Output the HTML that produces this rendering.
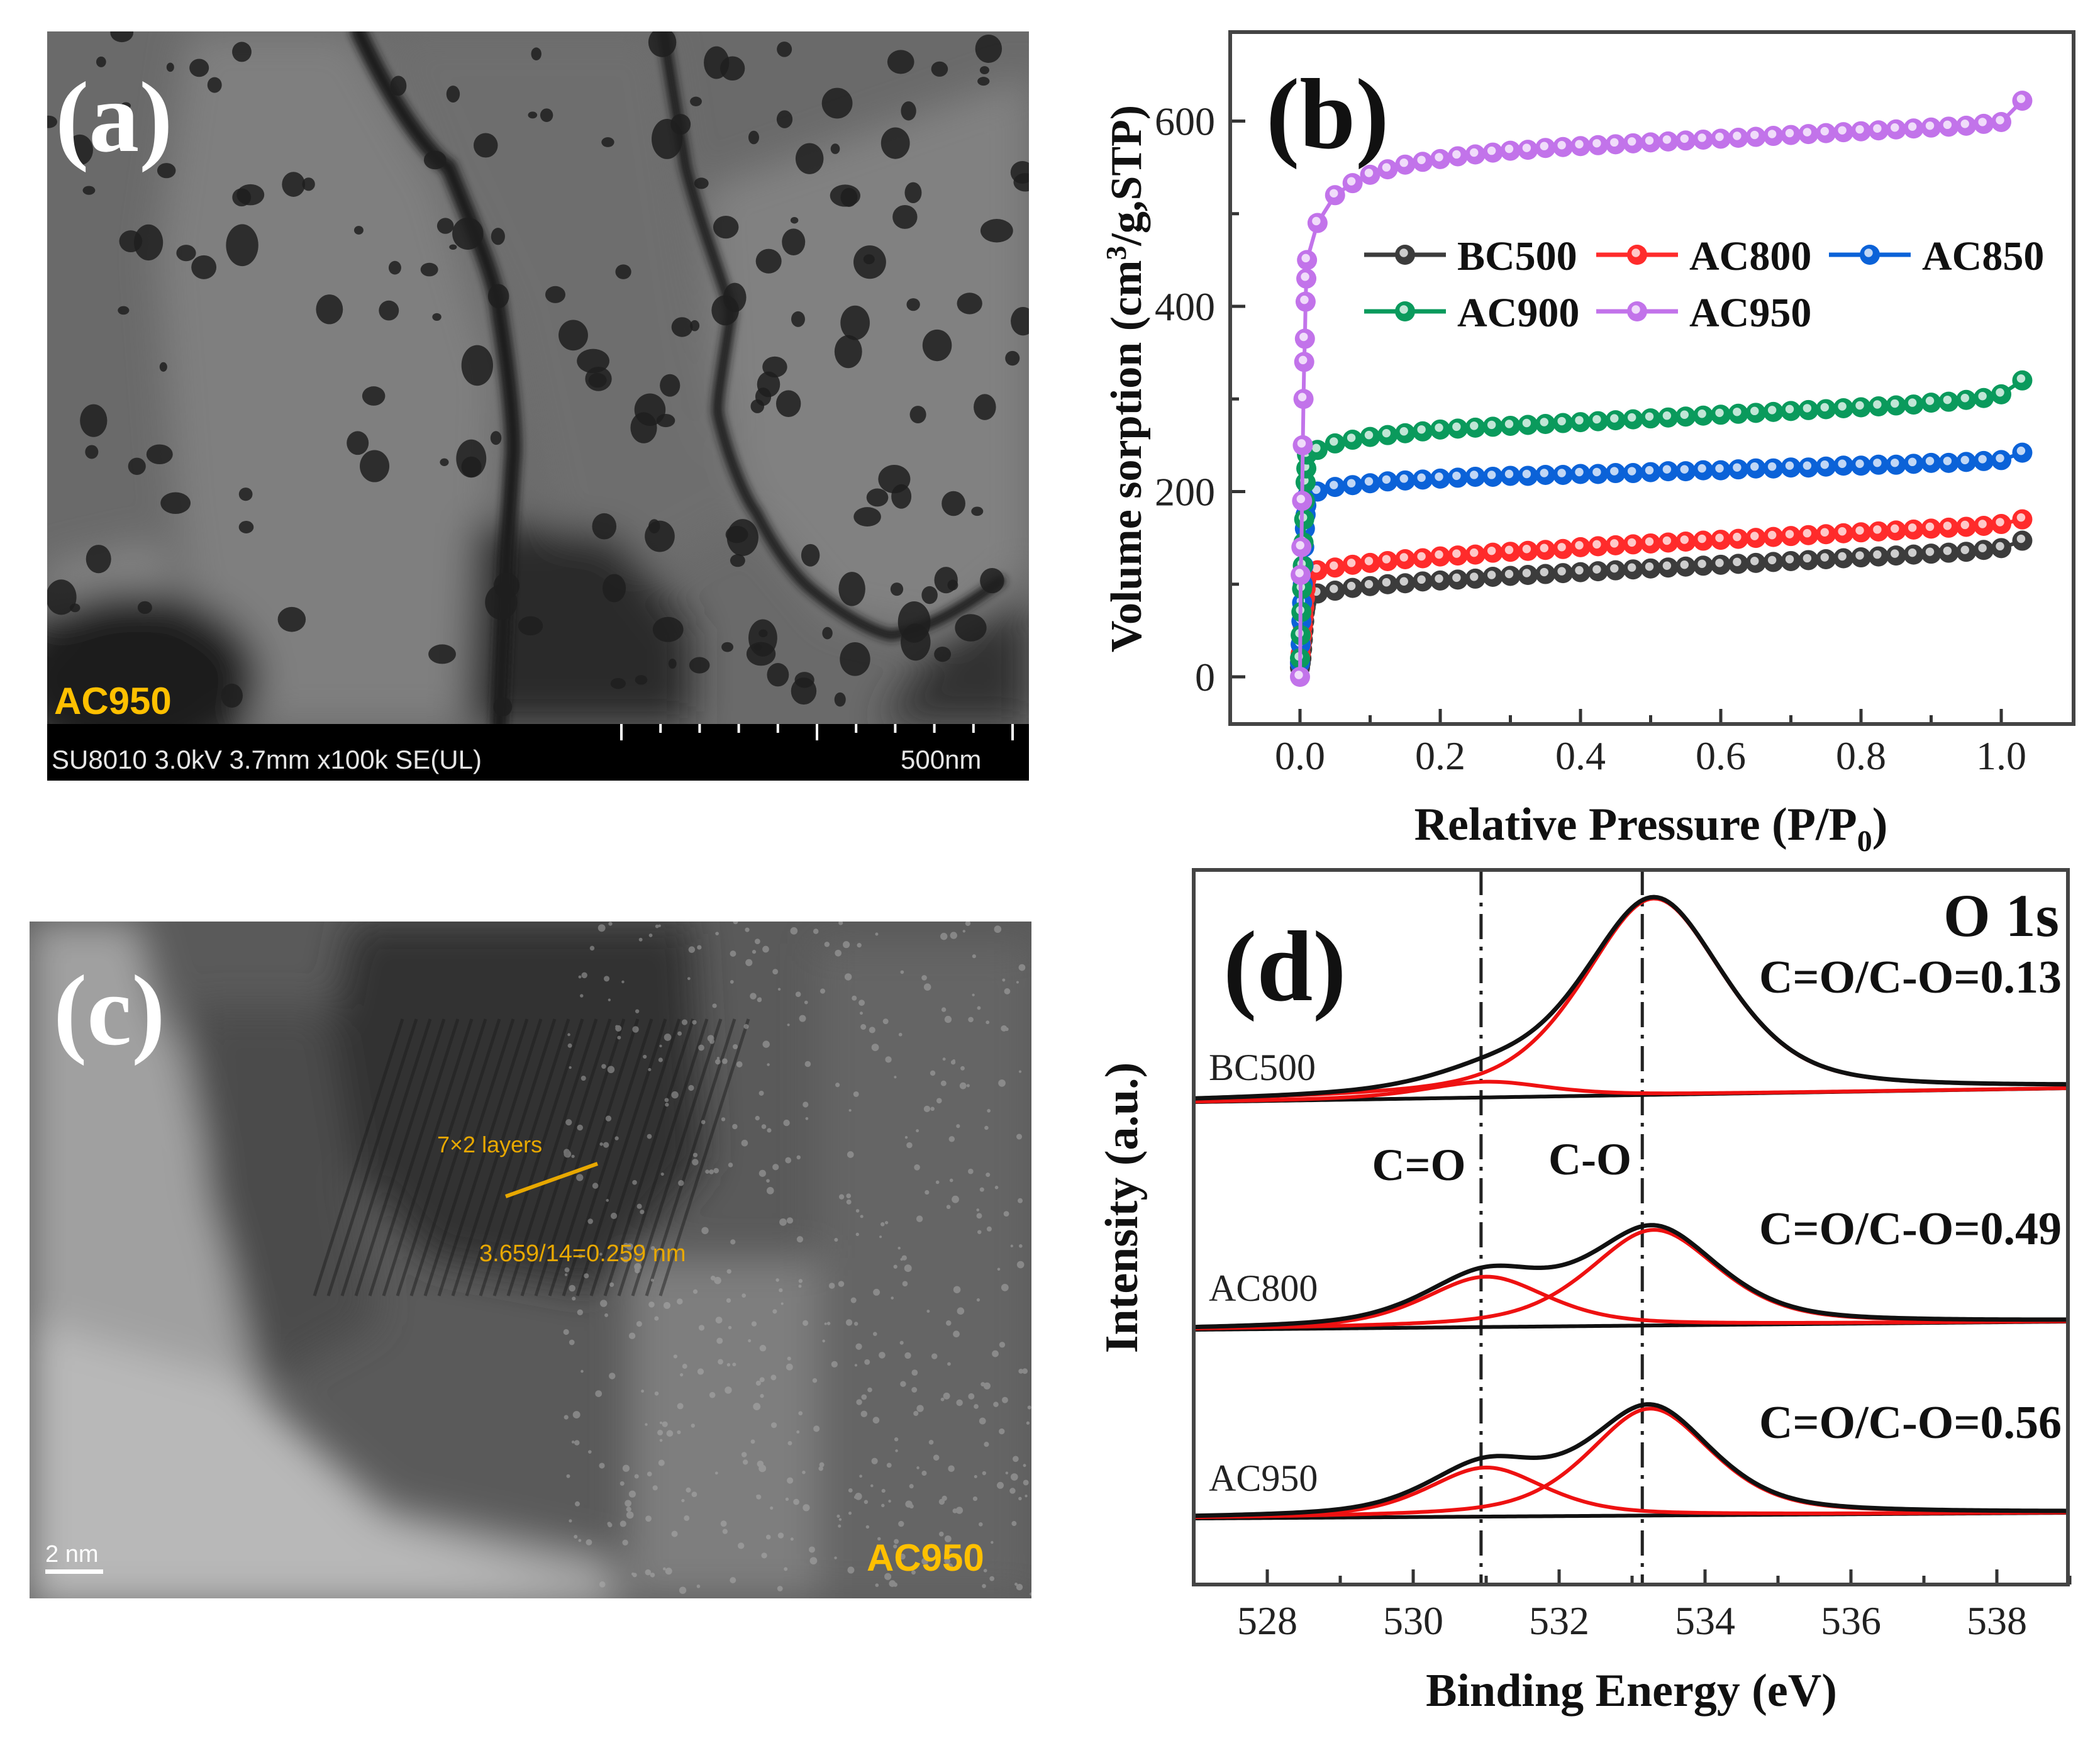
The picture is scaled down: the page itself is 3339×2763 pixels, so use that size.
<!DOCTYPE html>
<html><head><meta charset="utf-8">
<style>
html,body{margin:0;padding:0;background:#fff;}
svg{display:block;}
.serif{font-family:"Liberation Serif",serif;}
.sans{font-family:"Liberation Sans",sans-serif;}
</style></head>
<body>
<svg id="fig" width="3339" height="2763" viewBox="0 0 3339 2763" xmlns="http://www.w3.org/2000/svg">
<defs>
 <filter id="blur30" filterUnits="userSpaceOnUse" x="-500" y="-500" width="4300" height="3800"><feGaussianBlur stdDeviation="30"/></filter>
 <filter id="blur8" filterUnits="userSpaceOnUse" x="-500" y="-500" width="4300" height="3800"><feGaussianBlur stdDeviation="6"/></filter>
 <clipPath id="clipA"><rect x="75" y="50" width="1561" height="1101"/></clipPath>
 <clipPath id="clipC"><rect x="47" y="1465" width="1593" height="1076"/></clipPath>
 <clipPath id="clipB"><rect x="1956" y="51" width="1341" height="1100"/></clipPath>
 <clipPath id="clipD"><rect x="1898" y="1383" width="1390" height="1136"/></clipPath>
</defs>

<!-- Panel (a) SEM image -->
<g id="panelA">
 <g clip-path="url(#clipA)">
  <rect x="75" y="50" width="1561" height="1101" fill="#6a6a6a"/>
  <g filter="url(#blur30)">
   <path d="M300,50 L560,50 L700,300 L790,600 L770,1151 L330,1151 L280,800 L250,400 Z" fill="#7f7f7f"/>
   <path d="M1120,300 L1636,120 L1636,900 L1500,1010 L1330,980 L1180,800 L1140,600 Z" fill="#818181"/>
   <path d="M75,900 L250,860 L300,1000 L75,1050 Z" fill="#848484"/>
   <path d="M600,50 L1050,50 L1140,650 L1200,820 L1050,900 L880,860 L800,500 Z" fill="#6e6e6e"/>
   <ellipse cx="213" cy="1080" rx="200" ry="140" fill="#1c1c1c"/>
   <path d="M754,830 L980,850 L1100,1000 L1100,1151 L740,1151 Z" fill="#2a2a2a"/>
   <path d="M1400,1151 L1500,1010 L1636,960 L1636,1151 Z" fill="#333"/>
  </g>
  <g fill="none" stroke="#1a1a1a" stroke-linecap="round" filter="url(#blur8)">
   <path d="M570,50 C640,200 700,260 713,265 C760,380 790,450 794,500 C810,600 820,700 815,736 C810,820 805,880 805,892 L794,1151" stroke-width="26"/>
   <path d="M1055,50 C1070,150 1085,230 1090,265 C1120,380 1160,470 1162,500 C1150,580 1140,630 1141,657 C1160,740 1190,800 1202,814 C1230,870 1260,910 1284,932 C1340,980 1390,1005 1417,1010 C1480,1000 1540,960 1590,924" stroke-width="18"/>
  </g>
  <g id="holesA" fill="#222"></g>
 </g>
 <rect x="75" y="1151" width="1561" height="90" fill="#000"/>
 <g id="scaleTicksA" stroke="#fff" stroke-width="4"></g>
 <text class="sans" x="82" y="1222" font-size="42" fill="#e6e6e6">SU8010 3.0kV 3.7mm x100k SE(UL)</text>
 <text class="sans" x="1432" y="1222" font-size="42" fill="#e6e6e6">500nm</text>
 <text class="sans" x="86" y="1135" font-weight="bold" font-size="60" fill="#ffc000">AC950</text>
 <text class="serif" x="88" y="240" font-weight="bold" font-size="160" fill="#fff">(a)</text>
</g>

<!-- Panel (c) HRTEM image -->
<g id="panelC">
 <g clip-path="url(#clipC)">
  <rect x="47" y="1465" width="1593" height="1076" fill="#5a5a5a"/>
  <g filter="url(#blur30)">
   <path d="M47,1465 L220,1465 L260,1620 L288,1660 L370,2046 L412,2222 L618,2397 L970,2475 L990,2560 L47,2560 Z" fill="#a0a0a0"/>
   <path d="M47,2100 L400,2200 L600,2420 L950,2541 L47,2541 Z" fill="#b8b8b8"/>
   <path d="M560,1465 L1100,1465 L1120,1850 L950,2050 L680,2000 L500,1780 Z" fill="#333"/>
   <path d="M300,1600 L520,1600 L600,2100 L420,2200 L330,1900 Z" fill="#4c4c4c"/>
   <path d="M1000,2000 L1400,2000 L1380,2541 L1000,2541 Z" fill="#7e7e7e"/>
   <path d="M1300,1500 L1640,1500 L1640,2541 L1300,2541 Z" fill="#656565"/>
  </g>
  <g id="latticeC" stroke="#1a1a1a" stroke-width="5" opacity="0.45"></g>
  <g id="speckC" fill="#b0b0b0" opacity="0.5"></g>
 </g>
 <text class="serif" x="85" y="1660" font-weight="bold" font-size="160" fill="#fff">(c)</text>
 <text class="sans" x="695" y="1832" font-size="36" fill="#e8a800">7×2 layers</text>
 <line x1="804" y1="1902" x2="950" y2="1850" stroke="#e8a800" stroke-width="6"/>
 <text class="sans" x="762" y="2005" font-size="38" fill="#e8a800">3.659/14=0.259 nm</text>
 <text class="sans" x="72" y="2483" font-size="38" fill="#fff">2  nm</text>
 <rect x="72" y="2495" width="92" height="7" fill="#fff"/>
 <text class="sans" x="1378" y="2497" font-weight="bold" font-size="60" fill="#ffc000">AC950</text>
</g>

<!-- Panel (b) -->
<g id="panelB" class="serif">
 <g id="bTicks" stroke="#333" stroke-width="5"></g>
 <g id="bTickLabels" font-size="64" fill="#222"></g>
 <g id="bSeries" clip-path="url(#clipB)"></g>
 <rect x="1956" y="51" width="1341" height="1100" fill="none" stroke="#444" stroke-width="6"/>
 <text x="2013" y="235" font-weight="bold" font-size="160" fill="#111">(b)</text>
 <g id="bLegend" font-weight="bold" font-size="66" fill="#111"></g>
 <text x="2625" y="1335" text-anchor="middle" font-weight="bold" font-size="74" fill="#111">Relative Pressure (P/P<tspan font-size="48" dy="18">0</tspan><tspan dy="-18">)</tspan></text>
 <text transform="translate(1814,602) rotate(-90)" text-anchor="middle" font-weight="bold" font-size="70" fill="#111">Volume sorption (cm<tspan font-size="46" dy="-24">3</tspan><tspan dy="24">/g,STP)</tspan></text>
</g>

<!-- Panel (d) -->
<g id="panelD" class="serif">
 <g id="dTicks" stroke="#333" stroke-width="5"></g>
 <g id="dTickLabels" font-size="64" fill="#222"></g>
 <g id="dSeries" clip-path="url(#clipD)"></g>
 <rect x="1898" y="1383" width="1390" height="1136" fill="none" stroke="#444" stroke-width="6"/>
 <text x="1945" y="1590" font-weight="bold" font-size="160" fill="#111">(d)</text>
 <text x="3274" y="1488" text-anchor="end" font-weight="bold" font-size="96" fill="#111">O 1s</text>
 <g id="dLabels"></g>
 <text x="2256" y="1876" text-anchor="middle" font-weight="bold" font-size="72" fill="#111">C=O</text>
 <text x="2528" y="1867" text-anchor="middle" font-weight="bold" font-size="72" fill="#111">C-O</text>
 <text x="2594" y="2712" text-anchor="middle" font-weight="bold" font-size="74" fill="#111">Binding Energy (eV)</text>
 <text transform="translate(1808,1920) rotate(-90)" text-anchor="middle" font-weight="bold" font-size="74" fill="#111">Intensity (a.u.)</text>
</g>
</svg>

<script>
// ===== Panel (b) data =====
const bPressure = [0.025,0.05,0.075,0.1,0.125,0.15,0.175,0.2,0.225,0.25,0.275,0.3,0.325,0.35,0.375,0.4,0.425,0.45,0.475,0.5,0.525,0.55,0.575,0.6,0.625,0.65,0.675,0.7,0.725,0.75,0.775,0.8,0.825,0.85,0.875,0.9,0.925,0.95,0.975,1.0,1.03];
const bLowPressure = [0.0,0.001,0.002,0.003,0.004,0.005,0.006,0.007,0.008,0.009,0.01];
const bSeriesNames = ["BC500","AC800","AC850","AC900","AC950"];
const bColors = ["#3c3c3c","#ff2b2b","#0b62d8","#0a9a5c","#c273ea"];
const bc500Low = [10,15,20,30,40,50,60,70,75,80,85];
const ac800Low = [15,25,35,45,55,65,75,85,95,105,110];
const ac850Low = [15,35,60,80,100,120,140,160,175,185,195];
const ac900Low = [20,45,70,95,120,145,170,190,210,225,240];
const ac950Low = [0,110,140,190,250,300,340,365,405,430,450];
const bc500High = [90,93,96,98,100,101,103,104,105,106,108,109,110,111,112,113,114,115,116,117,118,119,120,121,122,123,124,125,126,127,128,129,130,131,132,133,134,135,137,139,147];
const ac800High = [115,118,121,123,125,127,128,130,131,132,134,135,136,137,138,140,141,142,143,144,145,146,147,148,149,150,151,152,153,154,155,156,157,158,159,160,161,162,163,165,170];
const ac850High = [200,205,207,209,211,212,213,214,215,216,216,217,217,218,218,219,219,220,220,221,222,222,223,223,224,225,225,226,226,227,228,228,229,229,230,231,231,232,233,234,242];
const ac900High = [245,252,256,259,261,263,265,267,268,269,270,271,272,273,274,275,276,277,278,279,280,281,282,283,284,285,286,287,288,289,290,291,292,293,294,296,297,299,301,305,320];
const ac950High = [490,520,533,542,548,553,556,559,562,564,566,568,569,571,572,573,574,575,576,577,578,579,580,581,582,583,584,585,586,587,588,589,590,591,592,593,594,595,597,599,622];
const bXTicks = [0.0,0.2,0.4,0.6,0.8,1.0];
const bXTickLabels = ["0.0","0.2","0.4","0.6","0.8","1.0"];
const bYTicks = [0,200,400,600];
const bYTickLabels = ["0","200","400","600"];

// ===== Panel (d) data =====
const dSamples = ["BC500","AC800","AC950"];
const dRatios = ["C=O/C-O=0.13","C=O/C-O=0.49","C=O/C-O=0.56"];
const dBaseLeft = [767,405,105];
const dBaseRight = [789,418,114];
const dCOCenter = [533.3,533.3,533.25];
const dCOHeight = [312,152,170];
const dCOWidth = [2.3,2.1,2.0];
const dCdOCenter = [531.0,531.0,531.0];
const dCdOHeight = [25,80,78];
const dCdOWidth = [2.0,2.0,1.9];
const dRefLines = [530.93,533.14];
const dXTicks = [528,530,532,534,536,538];
const dXTickLabels = ["528","530","532","534","536","538"];

const NS = "http://www.w3.org/2000/svg";
function mk(tag, attrs, parent){ const e=document.createElementNS(NS,tag); for(const k in attrs) e.setAttribute(k,attrs[k]); if(parent) parent.appendChild(e); return e; }

// ---- axes b
const bx = v => 2067 + v*1115;
const by = v => 1076 - v*1.4725;
const bT = document.getElementById('bTicks');
const bL = document.getElementById('bTickLabels');
for (let i=0;i<=10;i++){ const v=i*0.1; const major = i%2===0;
  const t = mk('line',{x1:bx(v),x2:bx(v),y1:1151,y2:1151-(major?24:14)},bT);
    }
for (let v=0; v<=650; v+=100){ const major = v%200===0;
  const t = mk('line',{x1:1956,x2:1956+(major?24:14),y1:by(v),y2:by(v)},bT);
    }
bXTicks.forEach((v,i)=>{ const t=mk('text',{x:bx(v),y:1223,'text-anchor':'middle'},bL); t.textContent=bXTickLabels[i];
    });
bYTicks.forEach((v,i)=>{ const t=mk('text',{x:1932,y:by(v)+22,'text-anchor':'end'},bL); t.textContent=bYTickLabels[i];
    });

// ---- series b
const bLow = [bc500Low,ac800Low,ac850Low,ac900Low,ac950Low];
const bHigh = [bc500High,ac800High,ac850High,ac900High,ac950High];
const bS = document.getElementById('bSeries');
function marker(parent, x, y, color, r){
  const g = mk('g',{},parent);
  mk('circle',{cx:x,cy:y,r:r,fill:color},g);
  mk('circle',{cx:x-2,cy:y-3,r:r*0.42,fill:'#fff',opacity:0.75},g);
  return g;
}
bSeriesNames.forEach((name,si)=>{
  const g = mk('g',{},bS);
  
  
  const pts = [];
  bLowPressure.forEach((p,i)=>pts.push([bx(p),by(bLow[si][i])]));
  bPressure.forEach((p,i)=>pts.push([bx(p),by(bHigh[si][i])]));
  const line = mk('polyline',{points:pts.map(p=>p.join(',')).join(' '),fill:'none',stroke:bColors[si],'stroke-width':6},g);
  
  
  pts.forEach(p=>{ const m=marker(g,p[0],p[1],bColors[si],16);
    
     });
});

// ---- legend b
const bLg = document.getElementById('bLegend');
const legendPos = [[2169,405],[2538,405],[2908,405],[2169,495],[2538,495]];
bSeriesNames.forEach((name,i)=>{
  const [x,y] = legendPos[i];
  const g = mk('g',{},bLg);
  
  
  mk('line',{x1:x,x2:x+130,y1:y,y2:y,stroke:bColors[i],'stroke-width':7},g);
  marker(g,x+65,y,bColors[i],16);
  const t = mk('text',{x:x+148,y:y+24},g); t.textContent=name;
});

// ---- panel d
const dx = e => 2015 + (e-528)*116;
const dy = v => 2519 - v;
const dT = document.getElementById('dTicks');
const dL = document.getElementById('dTickLabels');
for (let e=528; e<=539; e++){ const major = e%2===0;
  const t = mk('line',{x1:dx(e),x2:dx(e),y1:2519,y2:2519-(major?24:14)},dT);
    }
dXTicks.forEach((v,i)=>{ const t=mk('text',{x:dx(v),y:2598,'text-anchor':'middle'},dL); t.textContent=dXTickLabels[i];
    });

function pv(e,c,h,w){ const d=(e-c)/(w/2); return h*(0.5/(1+d*d) + 0.5*Math.exp(-Math.LN2*d*d)); }
const dS = document.getElementById('dSeries');
dRefLines.forEach(e=>{ const l=mk('line',{x1:dx(e),x2:dx(e),y1:1383,y2:2519,stroke:'#222','stroke-width':5,'stroke-dasharray':'40 12 6 12'},dS);
    });
const dLab = document.getElementById('dLabels');
const sampleLabelY = [1717,2068,2370];
const ratioY = [1578,1978,2286];
dSamples.forEach((name,si)=>{
  const g = mk('g',{},dS);
  
  
  const base = e => dBaseLeft[si] + (dBaseRight[si]-dBaseLeft[si])*(e-527)/12;
  const bl=[], co=[], cdo=[], env=[];
  for (let e=527; e<=539.001; e+=0.05){
    const b=base(e), a=pv(e,dCOCenter[si],dCOHeight[si],dCOWidth[si]), c=pv(e,dCdOCenter[si],dCdOHeight[si],dCdOWidth[si]);
    bl.push(dx(e)+','+dy(b)); co.push(dx(e)+','+dy(b+a)); cdo.push(dx(e)+','+dy(b+c)); env.push(dx(e)+','+dy(b+a+c));
  }
  const lb=mk('polyline',{points:bl.join(' '),fill:'none',stroke:'#111','stroke-width':6},g);
   
  const l1=mk('polyline',{points:cdo.join(' '),fill:'none',stroke:'#ee1111','stroke-width':6},g);
   
  const l2=mk('polyline',{points:co.join(' '),fill:'none',stroke:'#ee1111','stroke-width':6},g);
   
  const l3=mk('polyline',{points:env.join(' '),fill:'none',stroke:'#111','stroke-width':7},g);
   
  const t=mk('text',{x:1922,y:sampleLabelY[si],'font-size':60,fill:'#222'},dLab); t.textContent=name;
   
  const r=mk('text',{x:3278,y:ratioY[si],'text-anchor':'end','font-size':74,'font-weight':'bold',fill:'#111'},dLab); r.textContent=dRatios[si];
   
});

// ---- decorative textures for micrographs
let seed = 7; const rnd = () => (seed = (seed*16807) % 2147483647) / 2147483647;
const hA = document.getElementById('holesA');
for (let i=0;i<170;i++){ const x=75+rnd()*1561, y=50+rnd()*1090, r=6+rnd()*20;
  mk('ellipse',{cx:x,cy:y,rx:r,ry:r*(0.7+rnd()*0.6),fill:'#1e1e1e',opacity:0.85},hA); }
const st = document.getElementById('scaleTicksA');
for (let i=0;i<=10;i++){ const x=988+i*62.2; mk('line',{x1:x,x2:x,y1:1151,y2:1151+(i%5===0?26:14)},st); }
const lat = document.getElementById('latticeC');
for (let i=0;i<26;i++){ const x=560+i*22; mk('line',{x1:x+80,y1:1620,x2:x-60,y2:2060},lat); }
const sp = document.getElementById('speckC');
for (let i=0;i<500;i++){ const x=900+rnd()*740, y=1465+rnd()*1076; mk('circle',{cx:x,cy:y,r:2+rnd()*4},sp); }
</script>
</body></html>
